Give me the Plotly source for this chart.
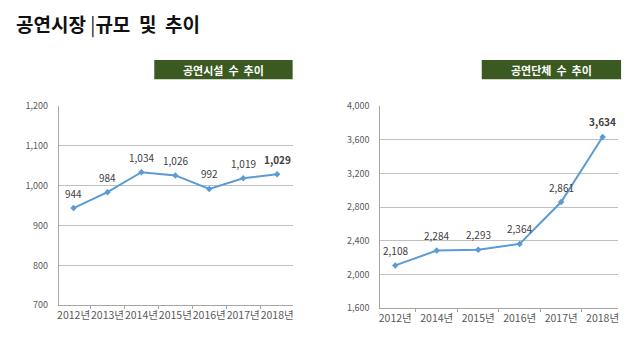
import plotly.graph_objects as go

# 공연시설 수 (연도별)
facility_years = ["2012년", "2013년", "2014년", "2015년", "2016년", "2017년", "2018년"]
facility_counts = [944, 984, 1034, 1026, 992, 1019, 1029]
facility_ticks = [700, 800, 900, 1000, 1100, 1200]

# 공연단체 수 (연도별)
group_years = ["2012년", "2014년", "2015년", "2016년", "2017년", "2018년"]
group_counts = [2108, 2284, 2293, 2364, 2861, 3634]
group_ticks = [1600, 2000, 2400, 2800, 3200, 3600, 4000]

FONT = "Noto Sans CJK KR"
LINE = "#5b9bd5"
GREEN = "#3a5a22"
GRID = "#c0c0c0"

fig = go.Figure()

for xs, ys, xa, ya in [(facility_years, facility_counts, "x", "y"),
                       (group_years, group_counts, "x2", "y2")]:
    fig.add_trace(go.Scatter(
        x=xs, y=ys, xaxis=xa, yaxis=ya, mode="lines+markers",
        line=dict(color=LINE, width=2),
        marker=dict(symbol="diamond", size=5, color=LINE),
        cliponaxis=False, showlegend=False, hoverinfo="skip",
    ))
    # 값 레이블 (마지막 연도는 굵게)
    for i, (cx, cy) in enumerate(zip(xs, ys)):
        txt = f"{cy:,}"
        if i == len(ys) - 1:
            txt = f"<b>{txt}</b>"
        fig.add_annotation(
            x=cx, y=cy, xref=xa, yref=ya, yshift=15, showarrow=False,
            text=txt, xanchor="center", yanchor="middle",
            font=dict(family=FONT, size=10, color="#404040"),
        )

W, H = 640, 345


def px_x(x):
    return x / W


def px_y(y):
    return 1 - y / H


xcommon = dict(
    type="category", showgrid=False, showline=True, linecolor="#a6a6a6",
    linewidth=1, ticks="outside", tickson="boundaries", ticklen=3,
    tickcolor="#a6a6a6", tickangle=0,
    tickfont=dict(family=FONT, size=10.5, color="#595959"),
    fixedrange=True,
)
ycommon = dict(
    showgrid=True, gridcolor=GRID, gridwidth=1, showline=True,
    linecolor="#a6a6a6", linewidth=1, ticks="", zeroline=False,
    tickformat=",", tickfont=dict(family=FONT, size=9, color="#595959"),
    ticklabelstandoff=8, fixedrange=True,
)

fig.update_layout(
    width=W, height=H,
    margin=dict(l=0, r=0, t=0, b=0),
    paper_bgcolor="white", plot_bgcolor="white",
    font=dict(family=FONT),
    xaxis=dict(**xcommon, domain=[px_x(57), px_x(292)], anchor="y"),
    yaxis=dict(**ycommon, domain=[px_y(310), px_y(103)], anchor="x",
               range=[700, 1200], tickvals=facility_ticks),
    xaxis2=dict(**xcommon, domain=[px_x(380), px_x(619)], anchor="y2"),
    yaxis2=dict(**ycommon, domain=[px_y(313), px_y(103)], anchor="x2",
                range=[1600, 4000], tickvals=group_ticks),
)

# 페이지 제목
fig.add_annotation(
    xref="paper", yref="paper", x=px_x(12), y=px_y(18),
    xanchor="left", yanchor="middle", showarrow=False,
    text="<b>공연시장 </b>|<b>규모  및  추이</b>",
    font=dict(family=FONT, size=19, color="#111111"),
)

# 차트별 제목 박스
for x0, x1, label in [(153, 292, "공연시설  수  추이"), (482, 622, "공연단체  수  추이")]:
    fig.add_shape(type="rect", xref="paper", yref="paper",
                  x0=px_x(x0), x1=px_x(x1), y0=px_y(75), y1=px_y(55),
                  fillcolor=GREEN, line=dict(width=0), layer="below")
    fig.add_annotation(
        xref="paper", yref="paper", x=px_x((x0 + x1) / 2), y=px_y(65),
        xanchor="center", yanchor="middle", showarrow=False,
        text=f"<b>{label}</b>",
        font=dict(family=FONT, size=11, color="white"),
    )

fig.write_html("out.html")
